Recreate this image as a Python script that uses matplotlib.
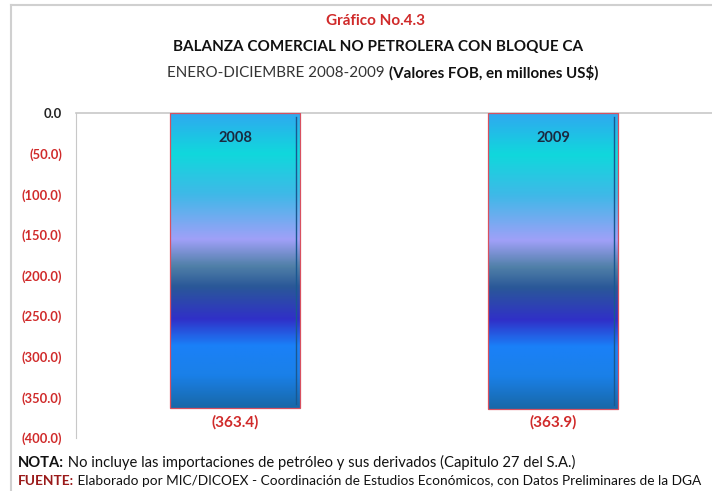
import matplotlib
matplotlib.use('Agg')
import matplotlib.pyplot as plt
from matplotlib.colors import LinearSegmentedColormap
from matplotlib.lines import Line2D
import numpy as np

years = ['2008', '2009']
values = [-363.4, -363.9]
value_labels = ['(363.4)', '(363.9)']
yticks = [0, -50, -100, -150, -200, -250, -300, -350, -400]
ytick_labels = ['0.0', '(50.0)', '(100.0)', '(150.0)', '(200.0)', '(250.0)',
                '(300.0)', '(350.0)', '(400.0)']

plt.rcParams['font.family'] = ['Lato', 'DejaVu Sans']
red = '#d02a2a'

fig = plt.figure(figsize=(7.12, 4.91), dpi=100, facecolor='white')
ax = fig.add_axes([0.1067, 0.108, 0.8933, 0.662])

# gradient used by the bars (top -> bottom)
stops = [(0.0, '#30a8f0'), (0.14, '#10d8dc'), (0.28, '#40b8e8'),
         (0.43, '#a0a0f8'), (0.52, '#5080a8'), (0.59, '#2a5898'),
         (0.70, '#3030c8'), (0.79, '#1a80f8'), (0.89, '#1a80e8'),
         (1.0, '#1868a8')]
cmap = LinearSegmentedColormap.from_list('barfill', stops)
grad = np.linspace(0, 1, 256).reshape(-1, 1)

x = np.arange(len(years))
bars = ax.bar(x, values, width=0.41, color='none', edgecolor='#d85060',
              linewidth=0.9, zorder=3)
for b in bars:
    x0, y0 = b.get_x(), b.get_y()
    w, h = b.get_width(), b.get_height()
    im = ax.imshow(grad, cmap=cmap, aspect='auto',
                   extent=[x0, x0 + w, y0 + h, y0], zorder=2)
    im.set_clip_path(b)
    # darker inner right edge
    ax.plot([x0 + w * 0.97, x0 + w * 0.97], [y0 - 5, y0 + h + 5],
            color='#1a5890', linewidth=1.0, zorder=2.5)

for xi, yr, v, lab in zip(x, years, values, value_labels):
    ax.text(xi, -31, yr, ha='center', va='center', fontsize=10.5,
            fontweight='bold', color='#1a2a40', zorder=4)
    ax.text(xi, v - 17, lab, ha='center', va='center', fontsize=11,
            fontweight='bold', color=red)

ax.set_xlim(-0.5, 1.5)
ax.set_ylim(-400, 0)
ax.set_yticks(yticks)
ax.set_yticklabels(ytick_labels, fontsize=9.3, fontweight='bold')
for t in ax.get_yticklabels()[1:]:
    t.set_color(red)
ax.get_yticklabels()[0].set_color('#222222')
ax.tick_params(axis='y', length=0, pad=10)
ax.set_xticks([])
for s in ['right', 'bottom']:
    ax.spines[s].set_visible(False)
ax.spines['left'].set_color('#c8c8c8')
ax.spines['top'].set_color('#c8c8c8')
ax.spines['top'].set_linewidth(1.2)

# titles
fig.text(0.527, 0.958, 'Gráfico No.4.3', ha='center', va='center',
         fontsize=11, fontweight='bold', color=red)
fig.text(0.531, 0.904, 'BALANZA COMERCIAL NO PETROLERA CON BLOQUE CA',
         ha='center', va='center', fontsize=11, fontweight='bold',
         color='#111111')
t1 = fig.text(0.235, 0.851, 'ENERO-DICIEMBRE 2008-2009 ', ha='left',
              va='center', fontsize=10.9, color='#333333')
fig.canvas.draw()
bb = t1.get_window_extent().transformed(fig.transFigure.inverted())
fig.text(bb.x1, 0.851, '(Valores FOB, en millones US$)', ha='left',
         va='center', fontsize=10.9, fontweight='bold', color='#111111')

# notes
n1 = fig.text(0.025, 0.058, 'NOTA:', ha='left', va='center', fontsize=10.6,
              fontweight='bold', color='#111111')
fig.canvas.draw()
bb = n1.get_window_extent().transformed(fig.transFigure.inverted())
fig.text(bb.x1, 0.058,
         ' No incluye las importaciones de petróleo y sus derivados (Capitulo 27 del S.A.)',
         ha='left', va='center', fontsize=10.6, color='#111111')
n2 = fig.text(0.025, 0.02, 'FUENTE:', ha='left', va='center', fontsize=9.8,
              fontweight='bold', color='#9a1a1a')
fig.canvas.draw()
bb = n2.get_window_extent().transformed(fig.transFigure.inverted())
fig.text(bb.x1, 0.02,
         ' Elaborado por MIC/DICOEX - Coordinación de Estudios Económicos, con Datos Preliminares de la DGA',
         ha='left', va='center', fontsize=9.8, color='#111111')

# outer frame lines
fig.add_artist(Line2D([0.0155, 1.0], [0.99, 0.99], color='#d0d0d0',
                      linewidth=1.5, transform=fig.transFigure))
fig.add_artist(Line2D([0.0155, 0.0155], [0.0, 0.99], color='#d0d0d0',
                      linewidth=1.5, transform=fig.transFigure))

fig.savefig('out.png', dpi=100, facecolor='white')
